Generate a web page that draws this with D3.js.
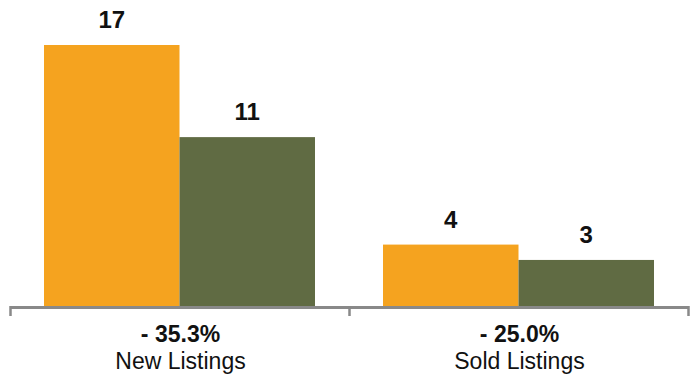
<!DOCTYPE html>
<html>
<head>
<meta charset="utf-8">
<script src="https://cdn.jsdelivr.net/npm/d3@7"></script>
<style>
  body { margin: 0; background: #fff; }
  text { font-family: "Liberation Sans", Arial, Helvetica, sans-serif; fill: #111; }
</style>
</head>
<body>
<script>
// Data
var categories = ["New Listings", "Sold Listings"];
var changes = ["- 35.3%", "- 25.0%"];
var seriesNames = ["Prior", "Current"];
var priorValues = [17, 4];
var currentValues = [11, 3];
var colors = ["#F5A31F", "#606B43"];

var w = 696, h = 377;
var baseY = 306;

var svg = d3.select("body").append("svg")
  .attr("width", w)
  .attr("height", h);

var x0 = d3.scaleBand().domain(categories).range([10, 688]).paddingInner(0).paddingOuter(0);
var x1 = d3.scaleBand().domain(seriesNames).range([0, x0.bandwidth()]).paddingInner(0).paddingOuter(0.251);
var y = d3.scaleLinear().domain([0, 17]).range([baseY, 45]);
var color = d3.scaleOrdinal().domain(seriesNames).range(colors);

var rows = categories.map(function (c, i) {
  return { cat: c, change: changes[i], vals: [
    { s: seriesNames[0], v: priorValues[i] },
    { s: seriesNames[1], v: currentValues[i] }
  ]};
});

var group = svg.selectAll(".grp").data(rows).enter().append("g")
  .attr("class", "grp")
  .attr("transform", function (d) { return "translate(" + x0(d.cat) + ",0)"; });

group.selectAll("rect").data(function (d) { return d.vals; }).enter().append("rect")
  .attr("x", function (d) { return x1(d.s); })
  .attr("y", function (d) { return y(d.v); })
  .attr("width", x1.bandwidth())
  .attr("height", function (d) { return baseY - y(d.v); })
  .style("fill", function (d) { return color(d.s); });

group.selectAll(".val").data(function (d) { return d.vals; }).enter().append("text")
  .attr("class", "val")
  .attr("x", function (d) { return x1(d.s) + x1.bandwidth() / 2; })
  .attr("y", function (d) { return y(d.v) - 17; })
  .attr("text-anchor", "middle")
  .style("font-size", "24px")
  .style("font-weight", "bold")
  .text(function (d) { return d.v; });

// Axis
svg.append("line")
  .attr("x1", 10).attr("x2", 688)
  .attr("y1", baseY + 1.5).attr("y2", baseY + 1.5)
  .style("stroke", "#898989").style("stroke-width", 3);

var tickXs = categories.map(function (c) { return x0(c); }).concat([x0(categories[1]) + x0.bandwidth()]);
svg.selectAll(".tick").data(tickXs).enter().append("line")
  .attr("x1", function (d) { return d + 0.5; }).attr("x2", function (d) { return d + 0.5; })
  .attr("y1", baseY).attr("y2", baseY + 10)
  .style("stroke", "#898989").style("stroke-width", 2.5);

// Category labels
var lab = svg.selectAll(".lab").data(rows).enter().append("text")
  .attr("class", "lab")
  .attr("text-anchor", "middle")
  .attr("x", function (d) { return x0(d.cat) + x0.bandwidth() / 2; });

lab.append("tspan")
  .attr("x", function (d) { return x0(d.cat) + x0.bandwidth() / 2 + 1; })
  .attr("y", 342)
  .style("font-size", "23px")
  .style("font-weight", "bold")
  .text(function (d) { return d.change; });

lab.append("tspan")
  .attr("x", function (d) { return x0(d.cat) + x0.bandwidth() / 2 + 1; })
  .attr("y", 369)
  .style("font-size", "23px")
  .text(function (d) { return d.cat; });
</script>
</body>
</html>
